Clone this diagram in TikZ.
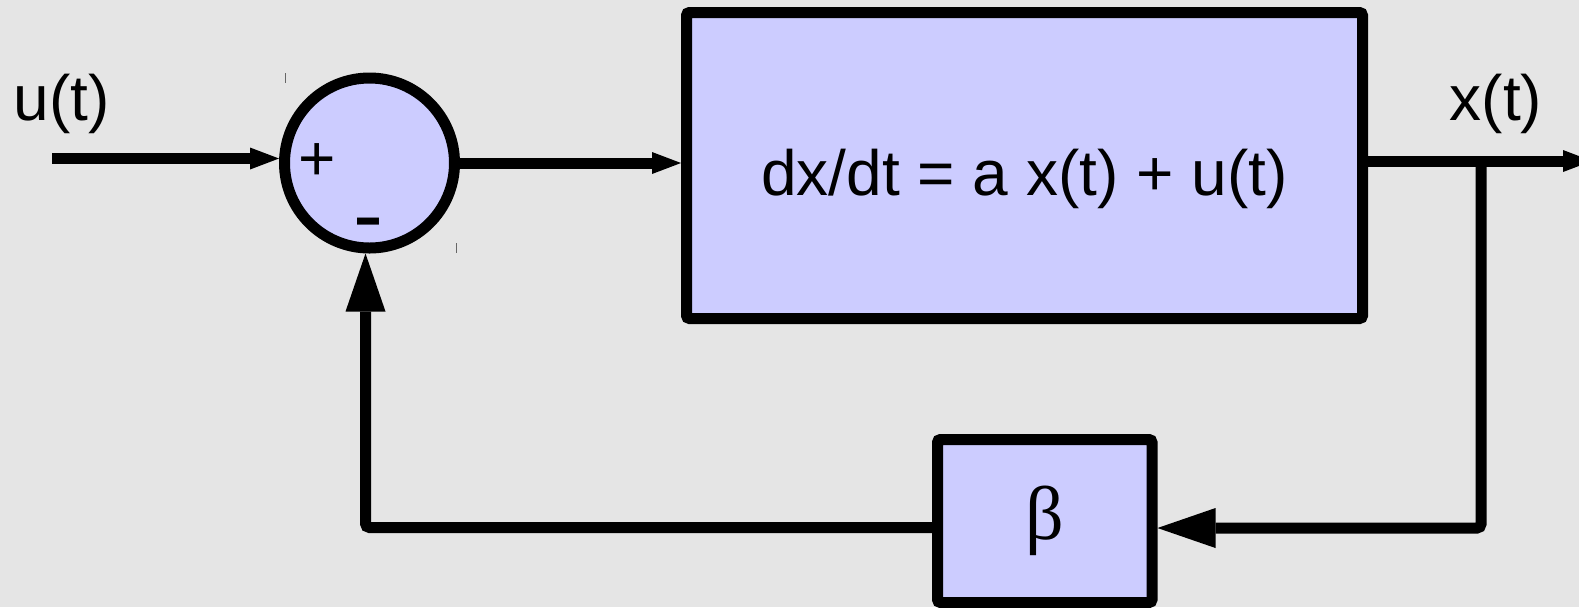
\documentclass[tikz,border=0pt]{standalone}
\usepackage{fontspec}
\setmainfont{Liberation Sans}
\newfontfamily\greekfont{Liberation Serif}
\usepackage{xcolor}
\usepackage{amsmath}
\usetikzlibrary{arrows.meta}

\definecolor{bggray}{RGB}{229,229,229}
\definecolor{blockfill}{RGB}{204,204,255}

\tikzset{
    block/.style={draw, fill=blockfill, rounded corners=1.5pt, inner sep=0pt},
    sig/.style={-{Triangle[length=14.5pt, width=11pt, line width=0pt]}},
    fbsig/.style={-{Triangle[length=29pt, width=20pt, line width=0pt]}}
}

\begin{document}
\begin{tikzpicture}[x=0.5pt, y=-0.5pt, line width=5.5pt, every node/.style={font=\fontsize{32}{38}\selectfont}]
    % Background
    \fill[bggray] (0,0) rectangle (1579,607);
    \useasboundingbox (0,0) rectangle (1579,607);

    % Sum
    \node[block, circle, minimum size=85pt] (sum) at (369.5,163) {};
    \node[inner sep=0pt] (plus) at (317,162) {+};
    \node[inner sep=0pt, font=\fontsize{45}{54}\selectfont] (minus) at (368,231.5) {-};
    \draw[line width=0.5pt, black!60] (285,73) -- (285,83);
    \draw[line width=0.5pt, black!60] (456,243) -- (456,253);

    % Plant
    \node[block, minimum width=338pt, minimum height=153pt] (plant) at (1024.5,165.5) {};
    \node[anchor=base, inner sep=0pt] (plant-text) at (1024.5,195) {dx/dt = a x(t) + u(t)};

    % Gain
    \node[block, minimum width=107.25pt, minimum height=81.5pt, font=\fontsize{38}{46}\greekfont] (gain) at (1044.75,521) {β};

    % Labels
    \node[anchor=base, inner sep=0pt] (u-label) at (61.5,120) {u(t)};
    \node[anchor=base, inner sep=0pt] (x-label) at (1496,120) {x(t)};

    % Signal path
    \coordinate (in) at (52,158.5);
    \coordinate (out) at (1592,161);
    \coordinate (branch) at (1481,161);
    \coordinate (fb-right) at (1481,528);
    \coordinate (fb-left) at (365.5,527.5);
    \draw[sig] (in) -- (in -| sum.west);
    \draw[sig] (sum.east) -- (sum.east -| plant.west);
    \draw[sig] (plant.east |- out) -- (out);

    % Feedback
    \draw[fbsig, rounded corners=2pt] (branch) -- (fb-right) -- (fb-right -| gain.east);
    \draw[fbsig, rounded corners=2pt] (gain.west |- fb-left) -- (fb-left) -- (fb-left |- sum.south);
\end{tikzpicture}
\end{document}
